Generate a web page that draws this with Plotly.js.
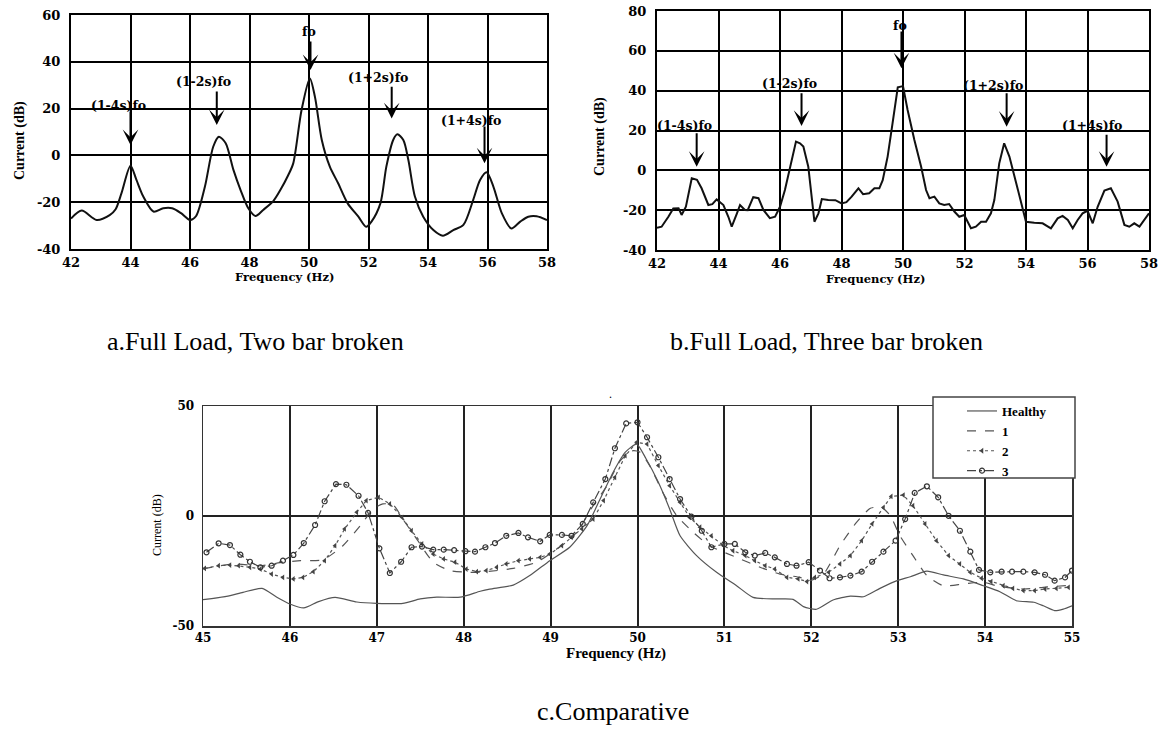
<!DOCTYPE html>
<html>
<head>
<meta charset="utf-8">
<script src="https://cdn.plot.ly/plotly-3.0.1.min.js"></script>
<style>html,body{margin:0;padding:0;background:#fff;}#chart{width:1158px;height:731px;}</style>
</head>
<body>
<div id="chart"></div>
<script>
// ---------- data: (a) Full load, two bar broken ----------
const aFreq = [42.0,42.36,42.86,43.3,43.5,43.7,44.0,44.2,44.43,44.77,45.1,45.4,45.7,46.0,46.2,46.5,46.78,46.97,47.2,47.46,47.7,47.96,48.2,48.46,48.8,49.05,49.3,49.47,49.75,50.03,50.2,50.43,50.7,50.98,51.3,51.66,51.92,52.1,52.4,52.6,52.83,52.97,53.17,53.34,53.56,53.84,54.18,54.5,54.85,55.19,55.52,55.75,55.97,56.2,56.48,56.8,57.1,57.37,57.65,58.0];
const aCurrent = [-27,-23.6,-27.6,-25.5,-23,-16,-4.4,-10.5,-17.6,-24,-22.6,-22.6,-24.7,-27.6,-26,-13.4,3.7,8,5.2,-6.2,-14.8,-22.6,-25.9,-23.3,-19.5,-14.5,-8.5,-3.4,19.4,32.9,25,6.6,-4.8,-11.9,-20.5,-26.2,-30.5,-28.3,-20.5,-4.8,6.6,9,6.6,-2,-17.6,-26.2,-31.9,-34.3,-31.9,-29.7,-19,-10.5,-7.2,-13.4,-24.7,-31.2,-28.3,-26.2,-26,-27.6];
const aLabels = ['(1-4s)fo','(1-2s)fo','fo','(1+2s)fo','(1+4s)fo'];
const aLabelFreq = [43.58,46.44,50.0,52.33,55.43];
const aLabelCurrent = [21.5,31.4,52.9,33.4,14.8];
const aArrowFreq = [44.0,46.9,50.05,52.78,55.9];
const aArrowTail = [19.4,28,49.3,30,13];
const aArrowHead = [4.4,13,36.5,15.8,-3.4];
const aXTicks = [42,44,46,48,50,52,54,56,58];
const aYTicks = [-40,-20,0,20,40,60];
const aYTickText = ['-40','-20','0','20','40','60'];

// ---------- data: (b) Full load, three bar broken ----------
const bFreq = [42.0,42.15,42.37,42.53,42.7,42.8,42.94,43.13,43.3,43.45,43.67,43.8,43.94,44.16,44.32,44.43,44.6,44.7,44.86,44.95,45.13,45.3,45.46,45.67,45.84,46.0,46.16,46.33,46.52,46.65,46.76,46.92,47.03,47.12,47.25,47.36,47.57,47.8,48.0,48.16,48.33,48.55,48.7,48.9,49.07,49.23,49.34,49.5,49.66,49.83,50.0,50.15,50.37,50.59,50.75,50.86,51.02,51.18,51.34,51.5,51.67,51.83,51.99,52.1,52.21,52.37,52.54,52.7,52.86,52.97,53.13,53.29,53.46,53.67,53.84,54.0,54.27,54.54,54.81,55.03,55.19,55.36,55.52,55.68,55.84,56.0,56.17,56.33,56.55,56.76,56.98,57.2,57.36,57.52,57.69,57.85,58.0];
const bCurrent = [-28.8,-28.3,-23.3,-19.1,-19,-22.4,-18.3,-4,-4.8,-9,-17.4,-17,-14.6,-17.4,-23.3,-28.3,-21.6,-17.4,-19.9,-20,-13.5,-14,-19.9,-24,-23.3,-18.3,-9.9,1.8,14.4,13.6,12,1.8,-13.2,-25.8,-21.6,-14.4,-14.9,-15,-16.6,-16,-13.2,-9,-12,-11.5,-9,-9,-4.9,6.9,23.6,41.7,42.3,30.3,15.2,1.8,-9.9,-14,-13.2,-16.6,-17.4,-16.9,-20.7,-23.3,-22.4,-25.8,-29.1,-28.3,-25.8,-25.8,-21.6,-14.9,3.5,13.6,6.9,-5.7,-16.6,-25.8,-26.3,-26.6,-29.1,-24.1,-22.9,-24.9,-29.1,-24.9,-21.6,-20.3,-26.6,-18.3,-10.2,-9,-15.7,-27.4,-28.3,-26.6,-28.3,-24.9,-21.6];
const bLabels = ['(1-4s)fo','(1-2s)fo','fo','(1+2s)fo','(1+4s)fo'];
const bLabelFreq = [42.91,46.3,49.9,52.94,56.14];
const bLabelCurrent = [22.4,43.7,72.5,42.8,22.3];
const bArrowFreq = [43.29,46.7,49.95,53.37,56.62];
const bArrowTail = [19.4,39.5,70.5,39.5,18.6];
const bArrowHead = [1.8,22.3,51.2,21.9,1.8];
const bXTicks = [42,44,46,48,50,52,54,56,58];
const bYTicks = [-40,-20,0,20,40,60,80];
const bYTickText = ['-40','-20','0','20','40','60','80'];

// ---------- data: (c) Comparative ----------
const seriesNames = ['Healthy','1','2','3'];
const cFreqHealthy = [45.0,45.27,45.46,45.68,45.85,46.0,46.16,46.33,46.52,46.77,47.0,47.3,47.5,47.69,47.96,48.19,48.3,48.57,48.76,48.99,49.22,49.42,49.57,49.72,49.86,49.99,50.1,50.24,50.37,50.49,50.68,50.91,51.14,51.33,51.6,51.79,51.91,52.06,52.25,52.45,52.6,52.79,52.98,53.14,53.33,53.52,53.75,53.98,54.17,54.36,54.56,54.67,54.8,54.9,55.0];
const cHealthy = [-38,-36.5,-34.7,-32.9,-36.9,-40,-41.8,-38.9,-37,-39.1,-39.7,-39.7,-37.7,-36.9,-36.9,-34.2,-33.2,-31.4,-27.1,-20.3,-14.2,-4.4,7.7,19.9,29,32.7,25.9,15.3,3.2,-9,-18,-25.6,-31.7,-37,-37.7,-37.9,-41.2,-42.4,-38.2,-36.4,-36.7,-32.9,-29.5,-27.6,-25.1,-26.8,-28.6,-31.7,-34.4,-38.5,-39.2,-40.8,-43,-42.3,-40.8];
const cFreq1 = [45.0,45.35,45.66,45.92,46.12,46.38,46.61,46.81,46.96,47.07,47.19,47.3,47.46,47.65,47.84,48.07,48.26,48.57,48.84,49.07,49.3,49.49,49.65,49.8,49.95,50.03,50.14,50.29,50.45,50.64,50.83,51.14,51.41,51.64,51.87,51.98,52.14,52.33,52.52,52.68,52.81,52.91,53.02,53.17,53.33,53.52,53.75,53.98,54.13,54.44,54.67,55.0];
const c1 = [-24,-21.8,-22.6,-21,-20.3,-19.9,-13.5,-4.4,3.2,5.5,5,-1.4,-10.5,-21,-24.8,-25.6,-25.3,-23.8,-21,-15,-7.4,4.7,13.8,25.1,29.7,29,22.9,10.8,0.2,-7.4,-13.5,-18.8,-23.3,-26.4,-27.9,-29.4,-26.4,-13.5,-2.9,3.5,3.9,0.1,-9,-18,-27.1,-31.7,-30.9,-30.1,-31.7,-33.2,-32.4,-31.4];
const cFreq2 = [45.02,45.18,45.31,45.41,45.54,45.66,45.79,45.92,46.04,46.15,46.27,46.4,46.52,46.63,46.77,46.88,47.02,47.15,47.29,47.4,47.52,47.65,47.77,47.9,48.03,48.15,48.26,48.38,48.49,48.63,48.76,48.88,48.99,49.13,49.24,49.36,49.49,49.61,49.74,49.86,49.99,50.11,50.24,50.37,50.49,50.6,50.72,50.85,50.99,51.1,51.24,51.35,51.47,51.58,51.72,51.85,51.95,52.04,52.2,52.33,52.45,52.58,52.7,52.83,52.92,53.06,53.17,53.31,53.44,53.58,53.71,53.83,53.96,54.07,54.21,54.32,54.44,54.57,54.69,54.82,54.96];
const c2 = [-23.8,-22.6,-22.3,-22.6,-23.3,-24.1,-26.4,-27.9,-28.6,-27.9,-25.3,-20.3,-13.5,-5.9,1.7,7,8.5,5.5,-0.6,-6.7,-12.7,-17.3,-19.5,-21,-24.1,-25.3,-24.8,-23.3,-21.8,-20.3,-19.5,-18.8,-17.3,-13.5,-9.7,-5.9,-1.4,7,17.6,27.4,33.5,32.7,22.9,13.8,6.2,-0.6,-5.1,-9,-13.5,-15.8,-18,-20.3,-22.6,-24.1,-27.9,-28.6,-29.8,-27.9,-25.6,-21.8,-18,-11.2,-3.6,3.9,8.9,9.5,4.7,-3.6,-11.2,-18,-21.8,-25.6,-28.3,-29.8,-31.7,-32.9,-33.9,-33.9,-33.2,-32.9,-32.4];
const cFreq3 = [45.04,45.18,45.31,45.43,45.54,45.66,45.79,45.92,46.04,46.16,46.29,46.4,46.53,46.65,46.79,46.9,47.03,47.15,47.28,47.4,47.52,47.65,47.77,47.89,48.02,48.13,48.25,48.36,48.49,48.63,48.74,48.88,48.99,49.13,49.24,49.37,49.49,49.63,49.74,49.87,50.0,50.11,50.24,50.37,50.49,50.62,50.74,50.85,51.0,51.12,51.24,51.35,51.47,51.58,51.72,51.83,51.97,52.1,52.21,52.33,52.45,52.58,52.7,52.83,52.97,53.08,53.19,53.33,53.46,53.58,53.71,53.83,53.93,54.06,54.19,54.31,54.44,54.57,54.69,54.8,54.92,55.0];
const c3 = [-16.5,-12.4,-13.2,-17.6,-20.8,-23.3,-22.6,-20.3,-17.7,-12.3,-4.1,6.7,14.5,14.2,9.2,1.4,-14.7,-25.9,-20.8,-14.2,-13.9,-15.3,-15.3,-15.5,-16,-16.2,-14.2,-12.3,-9,-7.7,-9.7,-11.5,-8.6,-8.6,-9,-3.6,6.2,16.8,30.8,42.1,42.6,35.8,26.7,16.8,7.7,-0.3,-6.7,-14.2,-12.7,-12.7,-16.5,-18,-16.8,-18.8,-21.8,-22.6,-21,-24.8,-28.3,-27.9,-27.1,-25.3,-20.8,-16.2,-11.2,-1.4,10.5,13.5,8.5,0.1,-6.7,-16.2,-24.5,-25.6,-25.3,-25.3,-25.3,-25.6,-26.7,-29.4,-27.9,-24.8];
const cXTicks = [45,46,47,48,49,50,51,52,53,54,55];
const cYTicks = [-50,0,50];
const cYTickText = ['-50','0','50'];

const captions = ['a.Full Load, Two bar broken','b.Full Load, Three bar broken','c.Comparative'];
const xTitle = 'Frequency (Hz)';
const yTitle = 'Current (dB)';

// ---------- layout helpers (page pixels -> paper fractions) ----------
const W = 1158, H = 731;
const px = v => v / W;
const py = v => 1 - v / H;

const tickFontAB = {family: 'DejaVu Serif', size: 13, color: '#000', weight: 'bold'};
const black = '#000';

const traces = [
  {x: aFreq, y: aCurrent, xaxis: 'x', yaxis: 'y', mode: 'lines', showlegend: false,
   line: {color: '#111', width: 2, shape: 'spline', smoothing: 0.8}},
  {x: bFreq, y: bCurrent, xaxis: 'x2', yaxis: 'y2', mode: 'lines', showlegend: false,
   line: {color: '#111', width: 2}},
  {x: cFreqHealthy, y: cHealthy, xaxis: 'x3', yaxis: 'y3', mode: 'lines', name: seriesNames[0],
   line: {color: '#555', width: 1.2, shape: 'spline', smoothing: 0.6}},
  {x: cFreq1, y: c1, xaxis: 'x3', yaxis: 'y3', mode: 'lines', name: seriesNames[1],
   line: {color: '#555', width: 1.2, dash: 'dash', shape: 'spline', smoothing: 0.6}},
  {x: cFreq2, y: c2, xaxis: 'x3', yaxis: 'y3', mode: 'lines+markers', name: seriesNames[2],
   line: {color: '#555', width: 1.2, dash: 'dot'},
   marker: {symbol: 'triangle-left', size: 5, color: '#444'}},
  {x: cFreq3, y: c3, xaxis: 'x3', yaxis: 'y3', mode: 'lines+markers', name: seriesNames[3],
   line: {color: '#444', width: 1.2, dash: 'dashdot'},
   marker: {symbol: 'circle-open', size: 5, color: '#333', line: {width: 1.2, color: '#333'}}}
];

function axisAB(extra) {
  return Object.assign({
    showgrid: true, gridcolor: black, gridwidth: 2,
    showline: true, linecolor: black, linewidth: 2, mirror: true,
    zeroline: false, ticks: '', tickfont: tickFontAB, automargin: false, fixedrange: true,
    ticklabeloverflow: 'allow', tickmode: 'array'
  }, extra);
}

const annotations = [];
function addArrows(labels, lx, ly, ax, tail, head, xr, yr) {
  for (let i = 0; i < labels.length; i++) {
    annotations.push({xref: xr, yref: yr, x: lx[i], y: ly[i], text: labels[i], showarrow: false,
      xanchor: 'center', yanchor: 'middle', font: {family: 'DejaVu Serif', size: 12.5, color: '#000', weight: 'bold'}});
    annotations.push({xref: xr, yref: yr, x: ax[i], y: head[i], axref: xr, ayref: yr, ax: ax[i], ay: tail[i],
      text: '', showarrow: true, arrowhead: 3, arrowsize: 1.3, arrowwidth: 2, arrowcolor: '#000', standoff: 0});
  }
}
addArrows(aLabels, aLabelFreq, aLabelCurrent, aArrowFreq, aArrowTail, aArrowHead, 'x', 'y');
addArrows(bLabels, bLabelFreq, bLabelCurrent, bArrowFreq, bArrowTail, bArrowHead, 'x2', 'y2');

// axis titles
const titleFontAB = {family: 'DejaVu Serif', size: 11.5, color: '#000', weight: 'bold'};
const yTitleFontAB = {family: 'Liberation Serif', size: 14, color: '#000', weight: 'bold'};
annotations.push({xref: 'paper', yref: 'paper', x: px(284), y: py(277), text: xTitle, showarrow: false, xanchor: 'center', yanchor: 'middle', font: titleFontAB});
annotations.push({xref: 'paper', yref: 'paper', x: px(20), y: py(141), text: yTitle, showarrow: false, textangle: -90, xanchor: 'center', yanchor: 'middle', font: yTitleFontAB});
annotations.push({xref: 'paper', yref: 'paper', x: px(875), y: py(279), text: xTitle, showarrow: false, xanchor: 'center', yanchor: 'middle', font: titleFontAB});
annotations.push({xref: 'paper', yref: 'paper', x: px(600), y: py(137), text: yTitle, showarrow: false, textangle: -90, xanchor: 'center', yanchor: 'middle', font: yTitleFontAB});
annotations.push({xref: 'paper', yref: 'paper', x: px(616), y: py(653), text: xTitle, showarrow: false, xanchor: 'center', yanchor: 'middle', font: {family: 'Liberation Serif', size: 15, color: '#000', weight: 'bold'}});
annotations.push({xref: 'paper', yref: 'paper', x: px(157), y: py(525), text: yTitle, showarrow: false, textangle: -90, xanchor: 'center', yanchor: 'middle', font: {family: 'Liberation Serif', size: 12, color: '#000'}});

// captions
const capFont = {family: 'Liberation Serif', size: 26, color: '#000'};
annotations.push({xref: 'paper', yref: 'paper', x: px(105), y: py(341), text: captions[0], showarrow: false, xanchor: 'left', yanchor: 'middle', font: capFont});
annotations.push({xref: 'paper', yref: 'paper', x: px(668), y: py(341), text: captions[1], showarrow: false, xanchor: 'left', yanchor: 'middle', font: capFont});
annotations.push({xref: 'paper', yref: 'paper', x: px(613), y: py(711), text: captions[2], showarrow: false, xanchor: 'center', yanchor: 'middle', font: capFont});
// small stray dot above panel c
annotations.push({xref: 'paper', yref: 'paper', x: px(610), y: py(394), text: '.', showarrow: false, xanchor: 'center', yanchor: 'middle', font: {family: 'Liberation Serif', size: 12, color: '#000'}});

const cTickFont = {family: 'DejaVu Serif', size: 12, color: '#000', weight: 'bold'};
const layout = {
  width: W, height: H,
  margin: {l: 0, r: 0, t: 0, b: 0, pad: 0},
  paper_bgcolor: '#fff', plot_bgcolor: '#fff',
  showlegend: true,
  xaxis: axisAB({domain: [px(71), px(547)], range: [42, 58], tickvals: aXTicks, ticktext: aXTicks.map(String), anchor: 'y', ticklabelstandoff: 0}),
  yaxis: axisAB({domain: [py(249), py(15)], range: [-40, 60], tickvals: aYTicks, ticktext: aYTickText, anchor: 'x', ticklabelstandoff: 6}),
  xaxis2: axisAB({domain: [px(657), px(1149)], range: [42, 58], tickvals: bXTicks, ticktext: bXTicks.map(String), anchor: 'y2', ticklabelstandoff: 0}),
  yaxis2: axisAB({domain: [py(250), py(11)], range: [-40, 80], tickvals: bYTicks, ticktext: bYTickText, anchor: 'x2', ticklabelstandoff: 6}),
  xaxis3: {domain: [px(203), px(1072)], range: [45, 55], tickmode: 'array', tickvals: cXTicks, ticktext: cXTicks.map(String), anchor: 'y3',
    showgrid: true, gridcolor: '#222', gridwidth: 2, showline: true, linecolor: '#333', linewidth: 1.5, mirror: true,
    zeroline: false, ticks: '', tickfont: cTickFont, automargin: false, ticklabelstandoff: 0, ticklabeloverflow: 'allow', fixedrange: true},
  yaxis3: {domain: [py(626), py(406)], range: [-50, 50], tickmode: 'array', tickvals: cYTicks, ticktext: cYTickText, anchor: 'x3',
    showgrid: true, gridcolor: '#222', gridwidth: 2, showline: true, linecolor: '#333', linewidth: 1.5, mirror: true,
    zeroline: false, ticks: '', tickfont: cTickFont, automargin: false, ticklabelstandoff: 5, ticklabeloverflow: 'allow', fixedrange: true},
  legend: {x: px(962), y: py(396), xanchor: 'left', yanchor: 'top', bgcolor: 'rgba(0,0,0,0)', borderwidth: 0,
    font: {family: 'Liberation Serif', size: 13, color: '#000', weight: 'bold'}, tracegroupgap: 0},
  shapes: [
    {type: 'rect', xref: 'paper', yref: 'paper', x0: px(933), x1: px(1075), y0: py(478), y1: py(397),
     line: {color: '#444', width: 1.5}, fillcolor: '#fff', layer: 'above'}
  ],
  annotations: annotations
};

Plotly.newPlot('chart', traces, layout, {displayModeBar: false, staticPlot: true});
</script>
</body>
</html>
